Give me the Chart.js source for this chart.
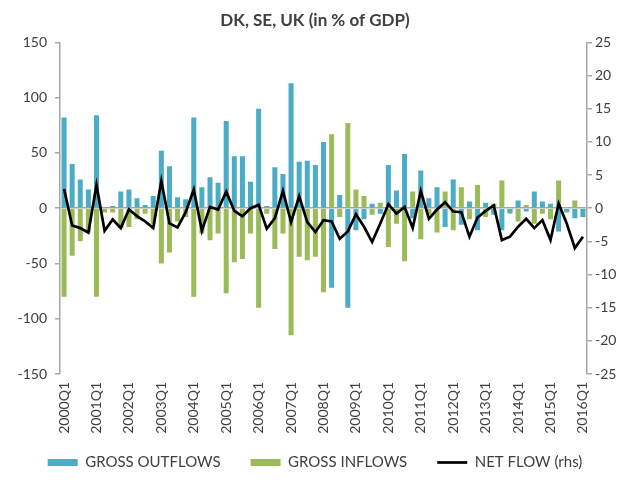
<!DOCTYPE html>
<html>
<head>
<meta charset="utf-8">
<script src="https://cdn.jsdelivr.net/npm/chart.js@4.4.0/dist/chart.umd.min.js"></script>
<style>
  html, body { margin: 0; padding: 0; background: #fff; }
  #wrap { width: 630px; height: 492px; position: relative; }
</style>
</head>
<body>
<div id="wrap"><canvas id="c"></canvas></div>
<script>
// Categories: 2000Q1 .. 2016Q1
const categories = [];
for (let y = 2000; y <= 2016; y++) {
  for (let q = 1; q <= 4; q++) {
    if (y === 2016 && q > 1) break;
    categories.push(y + 'Q' + q);
  }
}

const grossOutflows = [
  82, 40, 26, 17, 84, 1, 2, 15, 17, 9, 3, 11, 52, 38, 10, 8,
  82, 19, 28, 23, 79, 47, 47, 24, 90, 2, 37, 31, 113, 42, 43, 39,
  60, -72, 12, -90, -20, -10, 4, -5, 39, 16, 49, -9, 34, 9, 19, -17,
  26, -15, 6, -20, 5, -6, -20, -4, 7, -3, 15, 6, 4, -21, -3, -9, -8
];

const grossInflows = [
  -80, -43, -30, -22, -80, -4, -4, -18, -17, -10, -5, -14, -50, -40, -12, -8,
  -80, -23, -29, -23, -77, -49, -46, -23, -90, -5, -37, -23, -115, -44, -47, -44,
  -76, 67, -8, 77, 17, 11, -6, 5, -35, -14, -48, 15, -28, -6, -22, 15,
  -20, 19, -10, 21, -8, 4, 25, -5, -12, 3, -14, -5, -10, 25, -4, 7, -2
];

const netFlow = [
  2.9, -2.6, -3.0, -3.7, 3.5, -3.4, -1.7, -3.0, -0.2, -1.2, -2.0, -3.0, 4.1, -2.3, -2.9, -0.6,
  2.8, -3.4, 0.2, -0.2, 2.5, -0.4, -1.2, 0.0, 0.5, -3.1, -1.5, 2.6, -2.1, 1.8, -2.1, -3.6,
  -1.8, -2.0, -4.6, -3.5, -0.9, -2.8, -5.1, -2.3, 0.6, -0.8, 0.2, -3.0, 2.6, -1.6, -0.2, 0.9,
  -0.5, -0.6, -4.3, -1.4, -0.4, 0.4, -4.8, -4.3, -2.8, -1.6, -3.0, -1.8, -4.8, 0.7, -2.3, -6.0, -4.3
];

const leftTicks = { min: -150, max: 150, step: 50 };
const rightTicks = { min: -25, max: 25, step: 5 };

const BLUE = '#4BACC6';
const GREEN = '#9BBB59';
const AXIS = '#a6a6a6';
const TEXT = '#404040';
const FONT = 'Lato, "Open Sans", sans-serif';

new Chart(document.getElementById('c'), {
  data: {
    labels: categories,
    datasets: [
      {
        type: 'bar', label: 'GROSS OUTFLOWS', data: grossOutflows,
        backgroundColor: BLUE, borderWidth: 0, grouped: false,
        barPercentage: 0.62, categoryPercentage: 1.0, yAxisID: 'y',
        pointStyle: 'rect', order: 2
      },
      {
        type: 'bar', label: 'GROSS INFLOWS', data: grossInflows,
        backgroundColor: GREEN, borderWidth: 0, grouped: false,
        barPercentage: 0.62, categoryPercentage: 1.0, yAxisID: 'y',
        pointStyle: 'rect', order: 3
      },
      {
        type: 'line', label: 'NET FLOW (rhs)', data: netFlow,
        borderColor: '#000', backgroundColor: '#000', borderWidth: 2.7,
        pointRadius: 0, tension: 0, yAxisID: 'y1', pointStyle: 'line', order: 1
      }
    ]
  },
  options: {
    responsive: true,
    maintainAspectRatio: false,
    animation: false,
    layout: { padding: { left: 0, right: 0, top: 0, bottom: 12 } },
    plugins: {
      title: {
        display: true,
        text: 'DK, SE, UK (in % of GDP)',
        color: TEXT,
        font: { family: FONT, size: 17, weight: 'bold' },
        padding: { top: 10, bottom: 12 }
      },
      legend: {
        position: 'bottom',
        labels: {
          usePointStyle: true,
          pointStyleWidth: 30,
          boxHeight: 7,
          padding: 30,
          color: TEXT,
          font: { family: FONT, size: 15 },
          sort: (a, b) => a.datasetIndex - b.datasetIndex
        }
      },
      tooltip: { enabled: false }
    },
    scales: {
      x: {
        type: 'category',
        offset: true,
        grid: { display: false, drawTicks: false },
        border: { display: false },
        ticks: {
          autoSkip: false, minRotation: 90, maxRotation: 90, padding: 8,
          color: TEXT, font: { family: FONT, size: 14 },
          callback: function (v, i) { return i % 4 === 0 ? this.getLabelForValue(v) : ''; }
        },
        afterFit: function (a) {
          a.height = 51;
          a._computeLabelArea = function () { return undefined; };
        }
      },
      y: {
        position: 'left',
        min: leftTicks.min, max: leftTicks.max,
        ticks: { stepSize: leftTicks.step, color: TEXT, padding: 8, font: { family: FONT, size: 14 } },
        grid: {
          color: (ctx) => (ctx.tick && ctx.tick.value === 0 ? AXIS : 'rgba(0,0,0,0)'),
          tickColor: AXIS, tickLength: 5, lineWidth: 1.5
        },
        border: { display: true, color: AXIS, width: 1.5 },
        afterFit: function (a) { a.width = 60; }
      },
      y1: {
        position: 'right',
        min: rightTicks.min, max: rightTicks.max,
        ticks: { stepSize: rightTicks.step, color: TEXT, padding: 3, font: { family: FONT, size: 14 } },
        grid: { drawOnChartArea: false, tickColor: AXIS, tickLength: 5, lineWidth: 1.5 },
        border: { display: true, color: AXIS, width: 1.5 },
        afterFit: function (a) { a.width = 43; }
      }
    }
  }
});
</script>
</body>
</html>
